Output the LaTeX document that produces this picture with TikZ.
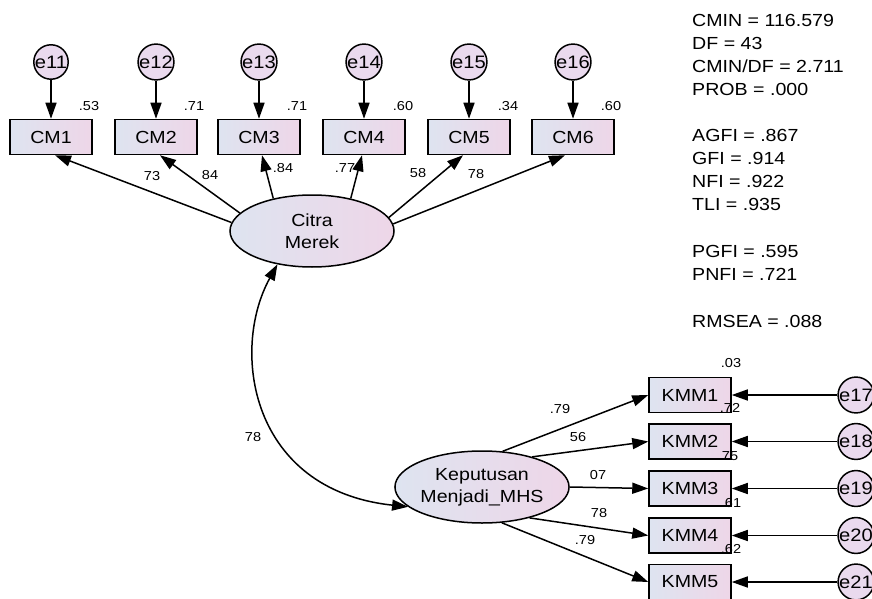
\documentclass[tikz,border=0pt]{standalone}
\usepackage{fontspec}
\setmainfont{Liberation Sans}[FakeStretch=1.12]
\usetikzlibrary{arrows.meta,shapes.geometric,calc}
\definecolor{boxL}{RGB}{222,228,240}
\definecolor{boxR}{RGB}{238,214,232}
\definecolor{circ}{RGB}{234,218,238}
\begin{document}
\begin{tikzpicture}[x=1pt,y=-1pt,
 obs/.style={draw=black, line width=1.5pt, left color=boxL, right color=boxR, minimum width=82pt, minimum height=35pt, inner sep=0pt, font=\fontsize{17.5}{19}\selectfont},
 lat/.style={ellipse, draw=black, line width=1.5pt, left color=boxL, right color=boxR, minimum width=164pt, minimum height=72pt, inner sep=0pt, align=center, font=\fontsize{17.5}{22}\selectfont},
 err/.style={circle, draw=black, line width=1.5pt, fill=circ, minimum size=33pt, inner sep=0pt, font=\fontsize{18}{18}\selectfont},
 arr/.style={line width=1.5pt, -{Triangle[length=16pt,width=11pt]}},
 lbl/.style={font=\fontsize{13}{15}\selectfont, inner sep=0pt},
 stat/.style={anchor=west, font=\fontsize{17.5}{19}\selectfont, inner sep=0pt}
]
\useasboundingbox[fill=white] (0,0) rectangle (872,599);

% top indicators
\foreach \i/\x in {1/51,2/156,3/259,4/364,5/469,6/573}{
  \node[obs] (cm\i) at (\x,137) {CM\i};
}
\node[err] (e11) at (51,62) {e11};
\node[err] (e12) at (156,62) {e12};
\node[err] (e13) at (259,62) {e13};
\node[err] (e14) at (364,62) {e14};
\node[err] (e15) at (469,62) {e15};
\node[err] (e16) at (573,62) {e16};
\foreach \i in {1,...,6}{
  \pgfmathtruncatemacro{\j}{\i+10}
  \draw[arr] (e\j) -- (cm\i);
}
\node[lbl] (r1) at (89,106) {.53};
\node[lbl] (r2) at (194,106) {.71};
\node[lbl] (r3) at (297,106) {.71};
\node[lbl] (r4) at (403,106) {.60};
\node[lbl] (r5) at (508,106) {.34};
\node[lbl] (r6) at (611,106) {.60};

\node[lat] (cmer) at (312,231) {Citra\\Merek};
\draw[arr] (cmer.174) -- ($(cm1.south)+(4,0)$);
\draw[arr] (cmer.166) -- ($(cm2.south)+(4,0)$);
\draw[arr] (cmer.140) -- ($(cm3.south)+(3,0)$);
\draw[arr] (cmer.40) -- ($(cm4.south)+(-2,0)$);
\draw[arr] (cmer.10) -- ($(cm5.south)+(-6,0)$);
\draw[arr] (cmer.5) -- ($(cm6.south)+(-8,0)$);
\node[lbl] (l1) at (152,176) {73};
\node[lbl] (l2) at (210,175) {84};
\node[lbl] (l3) at (283,168) {.84};
\node[lbl] (l4) at (345,168) {.77};
\node[lbl] (l5) at (418,173) {58};
\node[lbl] (l6) at (476,174) {78};

% lower
\node[lat] (kep) at (482,487) {Keputusan\\Menjadi\_MHS};
\node[obs] (kmm1) at (690,395) {KMM1};
\node[obs] (kmm2) at (690,441.5) {KMM2};
\node[obs] (kmm3) at (690,488.5) {KMM3};
\node[obs] (kmm4) at (690,535.5) {KMM4};
\node[obs] (kmm5) at (690,582) {KMM5};
\node[err] (e17) at (856,395) {e17};
\node[err] (e18) at (856,441.5) {e18};
\node[err] (e19) at (856,488.5) {e19};
\node[err] (e20) at (856,535.5) {e20};
\node[err] (e21) at (856,582) {e21};
\foreach \i in {1,...,5}{
  \pgfmathtruncatemacro{\j}{\i+16}
  \draw[arr] (e\j) -- (kmm\i);
}
\draw[arr] (kep.60) -- (kmm1.west);
\draw[arr] (kep.31) -- (kmm2.west);
\draw[arr] (kep.0) -- (kmm3.west);
\draw[arr] (kep.-33) -- (kmm4.west);
\draw[arr] (kep.-61) -- (kmm5.west);
\node[lbl] (m1) at (560,409) {.79};
\node[lbl] (m2) at (578,437) {56};
\node[lbl] (m3) at (598,475) {07};
\node[lbl] (m4) at (599,513) {78};
\node[lbl] (m5) at (585,540) {.79};
\node[lbl] (s1) at (731,363) {.03};
\node[lbl] (s2) at (730,408) {.72};
\node[lbl] (s3) at (728,456) {.75};
\node[lbl] (s4) at (731,503) {.61};
\node[lbl] (s5) at (731,549) {.62};

% covariance
\draw[line width=1.5pt, {Triangle[length=16pt,width=11pt]}-{Triangle[length=16pt,width=11pt]}]
  (cmer.224) .. controls (230,350) and (250,490) .. (kep.195);
\node[lbl] (cv) at (253,437) {78};

% fit statistics
\node[stat] (f1) at (692,20) {CMIN = 116.579};
\node[stat] (f2) at (692,43) {DF = 43};
\node[stat] (f3) at (692,66) {CMIN/DF = 2.711};
\node[stat] (f4) at (692,89) {PROB = .000};
\node[stat] (f5) at (692,135) {AGFI = .867};
\node[stat] (f6) at (692,158) {GFI = .914};
\node[stat] (f7) at (692,181) {NFI = .922};
\node[stat] (f8) at (692,204) {TLI = .935};
\node[stat] (f9) at (692,251) {PGFI = .595};
\node[stat] (f10) at (692,274) {PNFI = .721};
\node[stat] (f11) at (692,321) {RMSEA = .088};
\end{tikzpicture}
\end{document}
